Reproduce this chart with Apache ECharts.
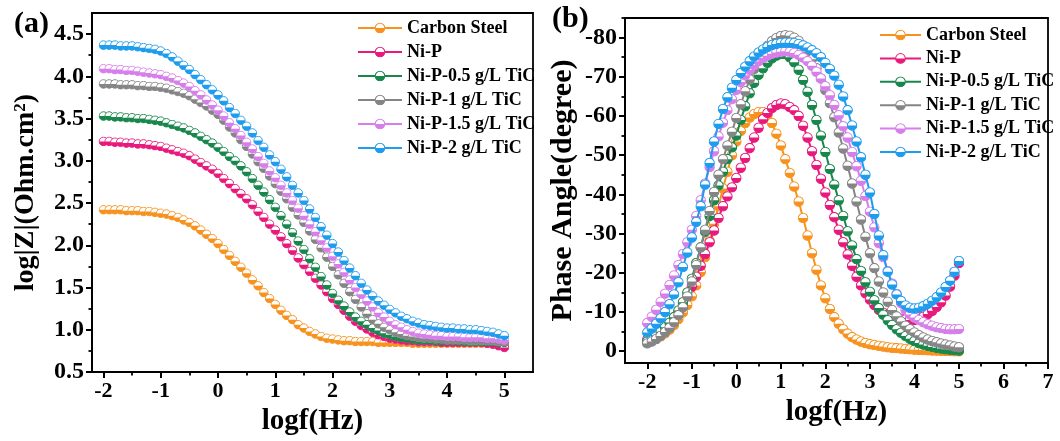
<!DOCTYPE html>
<html><head><meta charset="utf-8">
<script src="https://cdn.jsdelivr.net/npm/echarts@6/dist/echarts.min.js"></script>
<style>html,body{margin:0;padding:0;background:#fff}#c{width:1060px;height:441px}</style>
</head><body><div id="c"></div><script>
const seriesNames = ['Carbon Steel','Ni-P','Ni-P-0.5 g/L TiC','Ni-P-1 g/L TiC','Ni-P-1.5 g/L TiC','Ni-P-2 g/L TiC'];
const logf = [-2,-1.9,-1.8,-1.7,-1.6,-1.5,-1.4,-1.3,-1.2,-1.1,-1,-0.9,-0.8,-0.7,-0.6,-0.5,-0.4,-0.3,-0.2,-0.1,0,0.1,0.2,0.3,0.4,0.5,0.6,0.7,0.8,0.9,1,1.1,1.2,1.3,1.4,1.5,1.6,1.7,1.8,1.9,2,2.1,2.2,2.3,2.4,2.5,2.6,2.7,2.8,2.9,3,3.1,3.2,3.3,3.4,3.5,3.6,3.7,3.8,3.9,4,4.1,4.2,4.3,4.4,4.5,4.6,4.7,4.8,4.9,5];

// Panel (a): log|Z|
const zCS = [2.42,2.42,2.42,2.42,2.41,2.41,2.41,2.40,2.40,2.39, 2.38,2.37,2.35,2.33,2.30,2.27,2.23,2.18,2.13,2.08, 2.02,1.95,1.88,1.81,1.74,1.67,1.59,1.52,1.44,1.37, 1.30,1.23,1.17,1.12,1.06,1.02,0.98,0.95,0.92,0.90, 0.89,0.88,0.87,0.87,0.86,0.86,0.86,0.86,0.85,0.85, 0.85,0.85,0.85,0.85,0.84,0.84,0.84,0.84,0.84,0.84, 0.84,0.84,0.84,0.84,0.84,0.84,0.84,0.84,0.83,0.83, 0.82];
const zNiP = [3.23,3.23,3.22,3.22,3.21,3.21,3.20,3.20,3.19,3.18, 3.17,3.15,3.13,3.11,3.09,3.06,3.02,2.98,2.94,2.90, 2.85,2.79,2.73,2.67,2.61,2.55,2.48,2.40,2.33,2.25, 2.18,2.10,2.02,1.94,1.85,1.77,1.69,1.61,1.53,1.45, 1.37,1.30,1.23,1.16,1.10,1.05,1.01,0.97,0.94,0.92, 0.90,0.89,0.88,0.87,0.87,0.86,0.86,0.86,0.86,0.85, 0.85,0.85,0.85,0.85,0.85,0.85,0.85,0.84,0.83,0.81, 0.79];
const zT05 = [3.53,3.53,3.52,3.52,3.51,3.51,3.50,3.50,3.49,3.48, 3.47,3.45,3.43,3.41,3.39,3.36,3.33,3.29,3.25,3.21, 3.16,3.11,3.05,3.00,2.94,2.87,2.79,2.71,2.63,2.54, 2.45,2.35,2.25,2.15,2.05,1.95,1.84,1.74,1.63,1.53, 1.43,1.35,1.28,1.21,1.15,1.10,1.06,1.02,0.99,0.96, 0.94,0.92,0.91,0.90,0.89,0.88,0.88,0.88,0.87,0.87, 0.87,0.87,0.87,0.86,0.86,0.86,0.86,0.86,0.86,0.85, 0.85];
const zT1 = [3.91,3.91,3.91,3.90,3.90,3.90,3.89,3.89,3.88,3.88, 3.87,3.86,3.84,3.82,3.80,3.77,3.73,3.69,3.65,3.60, 3.55,3.48,3.40,3.33,3.25,3.17,3.08,2.99,2.91,2.82, 2.73,2.64,2.55,2.45,2.36,2.27,2.17,2.07,1.97,1.86, 1.75,1.65,1.55,1.45,1.36,1.27,1.19,1.12,1.07,1.03, 1.00,0.97,0.95,0.93,0.92,0.91,0.90,0.90,0.89,0.89, 0.88,0.88,0.88,0.88,0.87,0.87,0.87,0.87,0.87,0.86, 0.86];
const zT15 = [4.09,4.09,4.08,4.08,4.07,4.07,4.06,4.05,4.04,4.03, 4.02,4.00,3.98,3.95,3.92,3.88,3.83,3.78,3.72,3.66, 3.60,3.53,3.45,3.38,3.30,3.22,3.14,3.05,2.97,2.88, 2.80,2.71,2.62,2.53,2.44,2.35,2.25,2.16,2.06,1.97, 1.87,1.78,1.68,1.59,1.50,1.42,1.34,1.27,1.20,1.15, 1.10,1.06,1.03,1.00,0.98,0.96,0.95,0.94,0.93,0.93, 0.92,0.92,0.92,0.91,0.91,0.91,0.91,0.90,0.90,0.89, 0.88];
const zT2 = [4.37,4.37,4.37,4.36,4.36,4.36,4.35,4.34,4.33,4.32, 4.30,4.27,4.23,4.18,4.13,4.08,4.02,3.96,3.90,3.84, 3.78,3.71,3.63,3.56,3.48,3.41,3.33,3.24,3.16,3.07, 2.99,2.90,2.81,2.71,2.62,2.53,2.43,2.33,2.22,2.12, 2.02,1.92,1.82,1.73,1.64,1.55,1.47,1.40,1.34,1.29, 1.24,1.20,1.16,1.13,1.10,1.08,1.06,1.05,1.04,1.03, 1.02,1.02,1.01,1.01,1.00,1.00,0.99,0.98,0.97,0.95, 0.93];

// Panel (b): phase angle (degree)
const pCS = [-2.3,-2.7,-3.2,-3.8,-4.6,-5.5,-6.7,-8.2,-9.9,-11.8, -14.0,-16.8,-20.2,-24.0,-28.2,-32.5,-37.0,-41.5,-45.8,-50.0, -53.5,-56.2,-58.2,-59.6,-60.5,-61.0,-61.0,-60.2,-58.2,-55.5, -52.5,-49.0,-45.5,-42.0,-38.2,-34.0,-29.5,-25.0,-20.8,-16.8, -13.5,-10.8,-8.7,-7.0,-5.6,-4.5,-3.6,-3.0,-2.5,-2.1, -1.8,-1.6,-1.4,-1.2,-1.0,-0.9,-0.8,-0.7,-0.6,-0.5, -0.4,-0.35,-0.3,-0.25,-0.2,-0.15,-0.1,-0.1,-0.05,0, 0];
const pNiP = [-3.0,-3.5,-4.1,-4.9,-5.9,-7.0,-8.4,-10.0,-11.8,-14.0, -16.5,-19.0,-21.8,-24.8,-27.8,-30.8,-34.0,-37.0,-39.5,-41.8, -44.2,-46.8,-49.3,-51.8,-54.5,-57.0,-59.2,-60.8,-62.0,-62.8, -63.2,-63.0,-62.3,-61.5,-60.0,-57.5,-54.5,-51.0,-47.5,-44.0, -40.5,-37.3,-34.2,-31.0,-27.8,-24.7,-21.8,-19.0,-16.8,-14.8, -13.2,-11.8,-10.6,-9.8,-9.2,-8.8,-8.5,-8.3,-8.1,-8.0, -8.0,-8.3,-8.8,-9.5,-10.3,-11.3,-12.5,-14.2,-16.5,-19.3, -22.5];
const pT05 = [-2.5,-3.2,-4.0,-5.0,-6.1,-7.3,-8.7,-10.4,-12.5,-15.0, -18.5,-22.5,-26.5,-30.5,-34.5,-38.5,-42.3,-45.8,-49.0,-52.0, -55.0,-59.0,-62.5,-65.8,-68.5,-70.5,-72.2,-73.6,-74.7,-75.4, -75.8,-75.8,-75.0,-73.7,-71.8,-69.2,-66.2,-62.8,-59.0,-55.0, -50.8,-46.5,-42.5,-38.5,-34.5,-30.6,-27.0,-23.5,-20.5,-17.6, -15.2,-13.0,-11.0,-9.3,-7.9,-6.7,-5.6,-4.7,-3.9,-3.2, -2.6,-2.1,-1.7,-1.4,-1.1,-0.9,-0.7,-0.5,-0.4,-0.3, -0.2];
const pT1 = [-2.0,-2.5,-3.1,-3.9,-4.9,-6.0,-7.4,-9.2,-11.2,-14.0, -17.8,-22.0,-26.5,-31.0,-35.8,-40.6,-45.0,-49.0,-52.5,-56.0, -59.5,-63.0,-66.3,-69.3,-72.0,-74.3,-76.3,-77.9,-79.1,-79.9, -80.4,-80.6,-80.5,-80.0,-79.2,-78.0,-76.4,-74.5,-72.2,-69.6, -66.6,-63.3,-59.7,-55.8,-51.7,-47.3,-42.8,-38.2,-33.6,-29.2, -25.0,-21.2,-17.8,-15.0,-12.6,-10.5,-8.9,-7.6,-6.5,-5.6, -4.8,-4.1,-3.5,-3.0,-2.6,-2.3,-2.0,-1.7,-1.5,-1.2, -1.0];
const pT15 = [-7.2,-8.8,-10.6,-12.6,-14.7,-16.9,-19.3,-22.0,-24.8,-27.8, -31.0,-34.5,-38.5,-42.8,-47.0,-51.0,-54.8,-58.3,-61.5,-64.3, -66.7,-68.7,-70.4,-71.8,-73.0,-74.0,-74.8,-75.4,-75.9,-76.2, -76.4,-76.5,-76.4,-76.1,-75.6,-74.9,-74.0,-72.8,-71.3,-69.6, -67.6,-65.3,-62.8,-60.2,-57.4,-54.5,-50.8,-47.2,-43.5,-39.6, -35.6,-31.6,-27.6,-24.0,-20.5,-17.3,-14.6,-12.3,-10.6,-9.4, -8.6,-8.0,-7.4,-6.9,-6.5,-6.1,-5.9,-5.7,-5.6,-5.6, -5.7];
const pT2 = [-4.8,-5.8,-7.0,-8.4,-10.0,-12.0,-14.5,-17.6,-21.5,-25.2, -29.0,-33.0,-37.0,-42.5,-48.0,-53.5,-58.0,-61.8,-64.8,-67.2, -69.2,-71.0,-72.6,-74.0,-75.2,-76.2,-77.0,-77.6,-78.1,-78.4, -78.6,-78.7,-78.7,-78.6,-78.4,-78.0,-77.5,-76.8,-76.0,-75.0, -73.5,-72.0,-70.3,-68.0,-65.0,-61.5,-57.6,-53.5,-49.5,-45.0, -40.5,-35.0,-29.5,-24.5,-20.3,-17.0,-14.5,-12.8,-11.7,-11.1, -10.9,-11.1,-11.5,-12.1,-12.9,-13.8,-15.0,-16.4,-18.0,-20.3, -23.0];

const xTicksA = [-2,-1,0,1,2,3,4,5];
const xMinorA = [-1.5,-0.5,0.5,1.5,2.5,3.5,4.5];
const yTicksA = [0.5,1.0,1.5,2.0,2.5,3.0,3.5,4.0,4.5];
const yMinorA = [0.75,1.25,1.75,2.25,2.75,3.25,3.75,4.25];
const xTicksB = [-2,-1,0,1,2,3,4,5,6,7];
const xMinorB = [-1.5,-0.5,0.5,1.5,2.5,3.5,4.5,5.5,6.5];
const yTicksB = [-80,-70,-60,-50,-40,-30,-20,-10,0];
const yMinorB = [-85,-75,-65,-55,-45,-35,-25,-15,-5];

const colors = ['#F7921E','#E8197C','#17874B','#858585','#D67EEA','#1E9CEE'];
const magData = [zCS,zNiP,zT05,zT1,zT15,zT2];
const phaseData = [pCS,pNiP,pT05,pT1,pT15,pT2];

const FF = "'Liberation Serif','Times New Roman',serif";
function sym(c){
  const svg = '<svg xmlns="http://www.w3.org/2000/svg" width="24" height="24" viewBox="0 0 24 24">'+
    '<circle cx="12" cy="12" r="10.3" fill="#ffffff"/>'+
    '<path d="M1.7 12 A10.3 10.3 0 0 0 22.3 12 Z" fill="'+c+'"/>'+
    '<circle cx="12" cy="12" r="10.3" fill="none" stroke="'+c+'" stroke-width="2.2"/></svg>';
  return 'image://data:image/svg+xml;charset=utf-8,' + encodeURIComponent(svg);
}
const txt = {fontFamily: FF, fontWeight: 'bold', color: '#000'};
function mainAxis(grid, min, max, ticks, fmt, fs, extra){
  return Object.assign({
    type:'value', gridIndex:grid, min:min, max:max,
    axisLine:{show:true,onZero:false,lineStyle:{color:'#000',width:2}},
    axisTick:{show:true,customValues:ticks,length:6,lineStyle:{color:'#000',width:2}},
    axisLabel:Object.assign({customValues:ticks,fontSize:fs,formatter:fmt,margin:8},txt),
    splitLine:{show:false}
  }, extra||{});
}
function minorAxis(grid, min, max, ticks, pos, extra){
  return Object.assign({
    type:'value', gridIndex:grid, min:min, max:max, position:pos,
    axisLine:{show:false,onZero:false},
    axisTick:{show:true,customValues:ticks,length:3.5,lineStyle:{color:'#000',width:1.8}},
    axisLabel:{show:false}, splitLine:{show:false}
  }, extra||{});
}

const series = [];
seriesNames.forEach((n,i)=>{
  series.push({name:n,type:'line',xAxisIndex:0,yAxisIndex:0,
    data: logf.map((x,k)=>[x,magData[i][k]]),
    symbol:sym(colors[i]),symbolSize:10,showAllSymbol:true,
    lineStyle:{color:colors[i],width:1.5},itemStyle:{color:colors[i]},
    z:2+i});
});
seriesNames.forEach((n,i)=>{
  series.push({name:n,type:'line',xAxisIndex:2,yAxisIndex:2,
    data: logf.map((x,k)=>[x,phaseData[i][k]]),
    symbol:sym(colors[i]),symbolSize:11,showAllSymbol:true,
    lineStyle:{color:colors[i],width:2},itemStyle:{color:colors[i]},
    z:2+i});
});

const legendBase = {orient:'vertical',data:seriesNames,itemHeight:14,
  textStyle:Object.assign({fontSize:18},txt),selectedMode:false};

const chart = echarts.init(document.getElementById('c'));
chart.setOption({
  animation:false,
  backgroundColor:'#fff',
  grid:[
    {left:92,top:13,width:441,height:359,show:true,borderColor:'#000',borderWidth:1.8},
    {left:625,top:18,width:423,height:345,show:true,borderColor:'#000',borderWidth:1.8}
  ],
  legend:[
    Object.assign({left:352,top:14,itemGap:6,itemWidth:44},legendBase),
    Object.assign({left:874,top:21,itemGap:5.4,itemWidth:41},legendBase)
  ],
  xAxis:[
    mainAxis(0,-2.2,5.5,xTicksA,v=>String(v),22,{position:'bottom',name:'logf(Hz)',nameLocation:'middle',nameGap:27,
      nameTextStyle:Object.assign({fontSize:29},txt)}),
    minorAxis(0,-2.2,5.5,xMinorA,'bottom'),
    mainAxis(1,-2.5,7,xTicksB,v=>String(v),22,{position:'bottom',name:'logf(Hz)',nameLocation:'middle',nameGap:33,
      nameTextStyle:Object.assign({fontSize:29},txt)}),
    minorAxis(1,-2.5,7,xMinorB,'bottom')
  ],
  yAxis:[
    mainAxis(0,0.5,4.75,yTicksA,v=>v.toFixed(1),24,{position:'left',name:'log|Z|(Ohm.cm{s|2})',nameLocation:'middle',nameGap:52,
      nameTextStyle:Object.assign({fontSize:28,rich:{s:Object.assign({fontSize:17,verticalAlign:'top'},txt)}},txt)}),
    minorAxis(0,0.5,4.75,yMinorA,'left'),
    mainAxis(1,-85,3,yTicksB,v=>String(v),24,{position:'left',inverse:true,name:'Phase Angle(degree)',nameLocation:'middle',nameGap:47,
      nameTextStyle:Object.assign({fontSize:30},txt)}),
    minorAxis(1,-85,3,yMinorB,'left',{inverse:true})
  ],
  graphic:[
    {type:'text',left:14,top:9,style:{text:'(a)',fill:'#000',font:"bold 30px "+FF}},
    {type:'text',left:552,top:4,style:{text:'(b)',fill:'#000',font:"bold 30px "+FF}}
  ],
  series:series
});
</script></body></html>
